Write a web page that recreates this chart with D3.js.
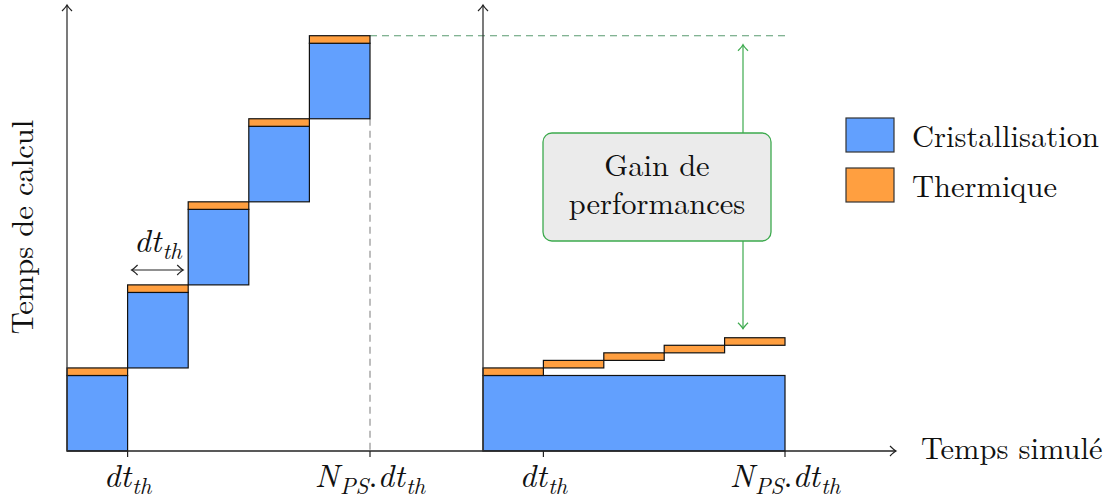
<!DOCTYPE html>
<html>
<head>
<meta charset="utf-8">
<script src="https://cdn.jsdelivr.net/npm/d3@7"></script>
</head>
<body style="margin:0;background:#fff">
<svg id="chart" width="1111" height="500"></svg>
<script>
// data : time steps and cost per step (arbitrary units)
var steps = [0, 1, 2, 3, 4];
var leftCrist = [1, 1, 1, 1, 1];
var leftTherm = [0.1, 0.1, 0.1, 0.1, 0.1];
var rightCrist = [1];
var rightTherm = [0.1, 0.1, 0.1, 0.1, 0.1];
var tickPos = [1, 5];
var legendItems = ["Cristallisation", "Thermique"];
var gainLines = ["Gain de", "performances"];

var BLUE = "#62a0fe", ORANGE = "#ff9f40", GREEN = "#3daa4e";
var FONT = "'Latin Modern Roman', 'Liberation Serif', serif";
var FS = 30.5, MFS = 32.5, SFS = 23;

var svg = d3.select("#chart");
var defs = svg.append("defs");
function arrowMarker(id, color){
	defs.append("marker")
		.attr("id", id)
		.attr("viewBox", "-8 -6 10 12")
		.attr("refX", 0).attr("refY", 0)
		.attr("markerWidth", 10).attr("markerHeight", 12)
		.attr("markerUnits", "userSpaceOnUse")
		.attr("orient", "auto-start-reverse")
		.append("path")
			.attr("d", "M-6,-5 Q-2,-1 0,0 Q-2,1 -6,5")
			.attr("fill", "none")
			.attr("stroke", color)
			.attr("stroke-width", 1.2);
}
arrowMarker("arr", "#222");
arrowMarker("arrG", GREEN);

var y = d3.scaleLinear().domain([0, 5.9]).range([451, 5.5]);
var xL = d3.scaleLinear().domain([0, 5]).range([67, 370]);
var xR = d3.scaleLinear().domain([0, 5]).range([483, 785]);

// cumulative stacks
var leftStack = [];
var acc = 0;
steps.forEach(function(s, i){
	var c0 = acc, c1 = acc + leftCrist[i], t1 = c1 + leftTherm[i];
	leftStack.push({s: s, c0: c0, c1: c1, t1: t1});
	acc = t1;
});
var rightStack = [];
var racc = rightCrist[0];
steps.forEach(function(s, i){
	rightStack.push({s: s, t0: racc, t1: racc + rightTherm[i]});
	racc += rightTherm[i];
});

var g = svg.append("g");
function txt(sel){ return sel.append("text").style("font-family", FONT).attr("fill", "#111"); }

// helper lines (behind)
var topVal = leftStack[4].t1;
g.append("line")
	.attr("x1", xL(5)).attr("x2", xL(5))
	.attr("y1", y(leftStack[4].c0)).attr("y2", y(0))
	.attr("stroke", "#888").attr("stroke-width", 1.1)
	.attr("stroke-dasharray", "7,5");
g.append("line")
	.attr("x1", xL(5)).attr("x2", xR(5))
	.attr("y1", y(topVal)).attr("y2", y(topVal))
	.attr("stroke", "#5a9a70").attr("stroke-width", 1.1)
	.attr("stroke-dasharray", "7,5");

// left bars
var lb = g.selectAll(".lb").data(leftStack).enter().append("g");
lb.append("rect")
	.attr("x", function(d){ return xL(d.s); })
	.attr("width", function(d){ return xL(d.s + 1) - xL(d.s); })
	.attr("y", function(d){ return y(d.c1); })
	.attr("height", function(d){ return y(d.c0) - y(d.c1); })
	.attr("fill", BLUE).attr("stroke", "#111").attr("stroke-width", 1.2);
lb.append("rect")
	.attr("x", function(d){ return xL(d.s); })
	.attr("width", function(d){ return xL(d.s + 1) - xL(d.s); })
	.attr("y", function(d){ return y(d.t1); })
	.attr("height", function(d){ return y(d.c1) - y(d.t1); })
	.attr("fill", ORANGE).attr("stroke", "#111").attr("stroke-width", 1.2);

// right bars
g.append("rect")
	.attr("x", xR(0)).attr("width", xR(5) - xR(0))
	.attr("y", y(rightCrist[0])).attr("height", y(0) - y(rightCrist[0]))
	.attr("fill", BLUE).attr("stroke", "#111").attr("stroke-width", 1.2);
g.selectAll(".rb").data(rightStack).enter().append("rect")
	.attr("x", function(d){ return xR(d.s); })
	.attr("width", function(d){ return xR(d.s + 1) - xR(d.s); })
	.attr("y", function(d){ return y(d.t1); })
	.attr("height", function(d){ return y(d.t0) - y(d.t1); })
	.attr("fill", ORANGE).attr("stroke", "#111").attr("stroke-width", 1.2);

// axes
g.append("line").attr("x1", xL(0)).attr("x2", 896).attr("y1", y(0)).attr("y2", y(0))
	.attr("stroke", "#222").attr("stroke-width", 1.3).attr("marker-end", "url(#arr)");
[xL(0), xR(0)].forEach(function(x0){
	g.append("line").attr("x1", x0).attr("x2", x0).attr("y1", y(0) + 0.5).attr("y2", 5)
		.attr("stroke", "#333").attr("stroke-width", 1.3).attr("marker-end", "url(#arr)");
});

// ticks + labels
function mathLabel(sel, x, yb, big){
	var t = txt(sel).attr("x", x).attr("y", yb)
		.attr("text-anchor", "middle").attr("font-size", MFS).attr("font-style", "italic");
	if(big){
		t.append("tspan").text("N");
		t.append("tspan").attr("dy", 7).attr("font-size", SFS).attr("dx", 1).text("PS");
		t.append("tspan").attr("dy", -7).attr("font-style", "normal").text(".");
	}
	t.append("tspan").text("dt");
	t.append("tspan").attr("dy", 7).attr("dx", 1).attr("font-size", SFS).text("th");
	return t;
}
[xL, xR].forEach(function(sc){
	tickPos.forEach(function(p){
		var x = sc(p);
		g.append("line").attr("x1", x).attr("x2", x).attr("y1", y(0)).attr("y2", y(0) + 6)
			.attr("stroke", "#222").attr("stroke-width", 1.2);
		mathLabel(g, x, 487, p === 5);
	});
});

// dt_th annotation
g.append("line")
	.attr("x1", xL(1) + 4).attr("x2", xL(2) - 5)
	.attr("y1", 270).attr("y2", 270)
	.attr("stroke", "#222").attr("stroke-width", 1.2)
	.attr("marker-start", "url(#arr)").attr("marker-end", "url(#arr)");
mathLabel(g, (xL(1) + xL(2)) / 2, 252, false);

// gain arrow + box
var ax = 743;
g.append("line").attr("x1", ax).attr("x2", ax)
	.attr("y1", y(topVal) + 9).attr("y2", y(rightStack[4].t1) - 9)
	.attr("stroke", GREEN).attr("stroke-width", 1.2)
	.attr("marker-start", "url(#arrG)").attr("marker-end", "url(#arrG)");
g.append("rect").attr("x", 543).attr("y", 133).attr("width", 228).attr("height", 108)
	.attr("rx", 9).attr("fill", "#ebebeb").attr("stroke", GREEN).attr("stroke-width", 1.3);
var gt = txt(g).attr("text-anchor", "middle").attr("font-size", FS);
gainLines.forEach(function(l, i){
	gt.append("tspan").attr("x", 657).attr("y", 176 + i * 38).text(l);
});

// axis titles
txt(g).attr("x", 921).attr("y", 459).attr("font-size", FS).text("Temps simulé");
txt(g).attr("transform", "translate(33,227) rotate(-90)")
	.attr("text-anchor", "middle").attr("font-size", FS).text("Temps de calcul");

// legend
var lg = g.selectAll(".lg").data(legendItems).enter().append("g")
	.attr("transform", function(d, i){ return "translate(846," + (118 + i * 50) + ")"; });
lg.append("rect").attr("width", 48).attr("height", 34)
	.attr("fill", function(d, i){ return i ? ORANGE : BLUE; })
	.attr("stroke", "#333").attr("stroke-width", 1.2);
lg.append("text").style("font-family", FONT).attr("fill", "#111")
	.attr("x", 66).attr("y", 29).attr("font-size", FS).text(function(d){ return d; });
</script>
</body>
</html>
